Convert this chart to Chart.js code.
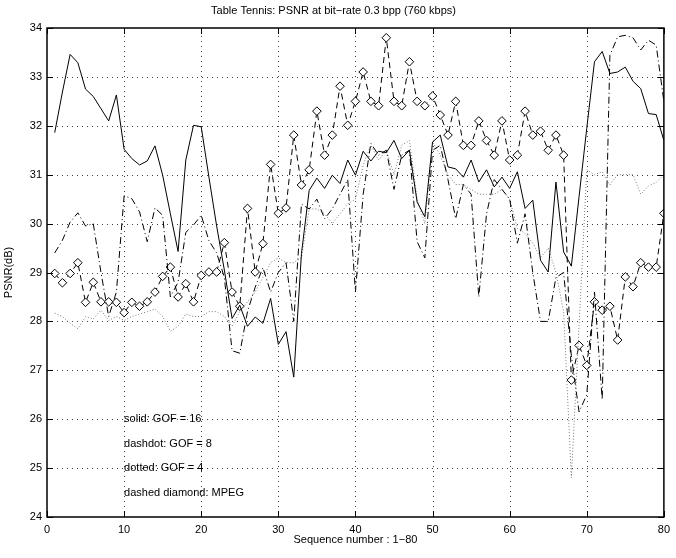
<!DOCTYPE html>
<html>
<head>
<meta charset="utf-8">
<script src="https://cdn.jsdelivr.net/npm/chart.js@4"></script>
<style>
  html, body { margin: 0; padding: 0; background: #fff; }
  #wrap { width: 676px; height: 558px; }
</style>
</head>
<body>
<div id="wrap"><canvas id="psnr" width="676" height="558"></canvas></div>
<script>
// ---- data :: PSNR per frame (sequence 1-80) ----
var seq = Array.from({length: 80}, function (_, i) { return i + 1; });

var gof16 = [31.86, 32.69, 33.46, 33.29, 32.75, 32.6, 32.35, 32.1, 32.63, 31.52,
             31.33, 31.2, 31.28, 31.59, 30.99, 30.2, 29.43, 31.3, 32.01, 31.98,
             30.95, 29.95, 29.05, 28.06, 28.33, 27.9, 28.09, 27.96, 28.47, 27.53,
             27.79, 26.86, 29.39, 30.68, 30.93, 30.72, 30.99, 30.82, 31.3, 30.99,
             31.48, 31.28, 31.48, 31.45, 31.7, 31.33, 31.5, 30.44, 30.14, 31.67,
             31.81, 31.16, 31.12, 30.95, 31.3, 30.85, 31.1, 30.75, 30.95, 30.72,
             31.06, 30.31, 30.48, 29.25, 29.01, 30.85, 29.42, 29.13, 30.55, 31.95,
             33.31, 33.52, 33.07, 33.1, 33.2, 32.91, 32.76, 32.25, 32.23, 31.7];

var gof8 = [29.4, 29.66, 30.03, 30.22, 29.95, 30.0, 29.0, 28.1, 28.6, 30.57,
            30.51, 30.24, 29.63, 30.32, 30.17, 28.5, 28.8, 29.82, 29.97, 30.17,
            29.65, 29.4, 28.9, 27.4, 27.35, 28.2, 28.7, 29.1, 28.6, 29.0,
            29.2, 28.0, 30.4, 30.3, 30.5, 30.1, 30.3, 30.6, 30.9, 28.6,
            30.6, 31.64, 31.4, 31.5, 30.7, 31.4, 31.5, 29.63, 29.3, 31.5,
            31.6, 30.9, 30.1, 30.8, 30.6, 28.5, 30.2, 30.9, 30.7, 30.5,
            29.6, 30.2, 29.0, 28.0, 28.0, 28.9, 29.0, 27.3, 26.15, 26.5,
            28.6, 26.4, 33.44, 33.82, 33.85, 33.8, 33.55, 33.75, 33.65, 32.5];

var gof4 = [28.17, 28.1, 27.96, 27.85, 28.1, 28.05, 28.23, 28.02, 28.1, 28.02,
            28.1, 28.15, 28.2, 28.25, 28.1, 27.8, 27.9, 28.15, 28.1, 28.1,
            28.2, 28.2, 28.1, 27.9, 28.2, 28.4, 28.6, 28.9, 29.2, 29.3,
            29.2, 29.2, 29.3, 30.3, 30.3, 30.2, 30.0, 30.2, 30.4, 30.5,
            31.2, 31.6, 31.3, 31.5, 31.0, 31.6, 31.7, 30.5, 30.0, 31.67,
            31.4, 31.0, 30.8, 30.8, 30.7, 30.6, 30.6, 30.6, 30.7, 30.5,
            29.9, 29.8, 29.6, 29.3, 29.5, 29.0, 28.2, 24.8, 27.9, 31.1,
            31.0, 31.06, 30.79, 31.0, 31.0, 31.0, 30.6, 30.77, 30.84, 31.0];

var mpeg = [28.98, 28.79, 28.98, 29.2, 28.39, 28.8, 28.4, 28.4, 28.39, 28.18,
            28.39, 28.31, 28.4, 28.6, 28.92, 29.11, 28.5, 28.77, 28.4, 28.94,
            29.01, 29.01, 29.61, 28.6, 28.31, 30.31, 29.01, 29.59, 31.21, 30.21,
            30.32, 31.81, 30.79, 31.1, 32.3, 31.4, 31.81, 32.81, 32.01, 32.5,
            33.1, 32.5, 32.41, 33.8, 32.5, 32.41, 33.31, 32.5, 32.41, 32.61,
            32.22, 31.81, 32.5, 31.6, 31.6, 32.1, 31.7, 31.4, 32.1, 31.3,
            31.4, 32.3, 31.81, 31.89, 31.5, 31.81, 31.4, 26.8, 27.51, 27.1,
            28.4, 28.23, 28.31, 27.62, 28.91, 28.71, 29.2, 29.11, 29.11, 30.21];

var xTicks = [0, 10, 20, 30, 40, 50, 60, 70, 80];
var yTicks = [24, 25, 26, 27, 28, 29, 30, 31, 32, 33, 34];

var notes = ['solid: GOF = 16', 'dashdot: GOF = 8', 'dotted: GOF = 4', 'dashed diamond: MPEG'];
var noteY = [26, 25.5, 25, 24.5];

var FONT = '"Liberation Sans", Arial, Helvetica, sans-serif';

function pts(vals) {
    return vals.map(function (v, i) { return {x: seq[i], y: v}; });
}

// ---- dotted grid behind the lines ----
var dotGrid = {
    id: 'dotGrid',
    beforeDatasetsDraw: function (chart) {
        var c = chart.ctx, a = chart.chartArea;
        var sx = chart.scales.x, sy = chart.scales.y;
        c.save();
        c.strokeStyle = 'rgba(0,0,0,0.75)';
        c.lineWidth = 1;
        c.setLineDash([1, 4]);
        c.beginPath();
        xTicks.slice(1, -1).forEach(function (t) {
            var px = Math.round(sx.getPixelForValue(t)) + 0.5;
            c.moveTo(px, a.bottom); c.lineTo(px, a.top);
        });
        yTicks.slice(1, -1).forEach(function (t) {
            var py = Math.round(sy.getPixelForValue(t)) + 0.5;
            c.moveTo(a.left, py); c.lineTo(a.right, py);
        });
        c.stroke();
        c.restore();
    }
};

// ---- axes frame, inward ticks, text notes ----
var matlabAxes = {
    id: 'matlabAxes',
    afterDraw: function (chart) {
        var c = chart.ctx, a = chart.chartArea;
        var sx = chart.scales.x, sy = chart.scales.y;
        c.save();
        c.strokeStyle = '#000';
        c.lineWidth = 1;
        c.setLineDash([]);
        c.beginPath();
        xTicks.forEach(function (t) {
            var px = Math.round(sx.getPixelForValue(t)) + 0.5;
            c.moveTo(px, a.bottom); c.lineTo(px, a.bottom - 6);
            c.moveTo(px, a.top); c.lineTo(px, a.top + 6);
        });
        yTicks.forEach(function (t) {
            var py = Math.round(sy.getPixelForValue(t)) + 0.5;
            c.moveTo(a.left, py); c.lineTo(a.left + 6, py);
            c.moveTo(a.right, py); c.lineTo(a.right - 6, py);
        });
        c.stroke();
        c.lineWidth = 1.5;
        c.strokeRect(a.left, a.top, a.right - a.left, a.bottom - a.top);

        c.fillStyle = '#000';
        c.font = '11px ' + FONT;
        c.textBaseline = 'middle';
        c.textAlign = 'left';
        notes.forEach(function (n, i) {
            c.fillText(n, sx.getPixelForValue(10), sy.getPixelForValue(noteY[i]));
        });
        c.restore();
    }
};

var ctx = document.getElementById('psnr').getContext('2d');
var chart = new Chart(ctx, {
    type: 'line',
    data: {
        datasets: [{
            label: 'solid: GOF = 16',
            data: pts(gof16),
            borderColor: '#000',
            borderWidth: 1,
            pointRadius: 0,
            tension: 0
        }, {
            label: 'dashdot: GOF = 8',
            data: pts(gof8),
            borderColor: '#000',
            borderWidth: 1,
            borderDash: [7, 3, 1, 3],
            pointRadius: 0,
            tension: 0
        }, {
            label: 'dotted: GOF = 4',
            data: pts(gof4),
            borderColor: '#777',
            borderWidth: 1,
            borderDash: [1, 2],
            pointRadius: 0,
            tension: 0
        }, {
            label: 'dashed diamond: MPEG',
            data: pts(mpeg),
            borderColor: '#000',
            borderWidth: 1,
            borderDash: [6, 4],
            pointStyle: 'rectRot',
            pointRadius: 4.3,
            pointBorderWidth: 1,
            pointBackgroundColor: '#fff',
            pointBorderColor: '#000',
            tension: 0
        }]
    },
    options: {
        responsive: false,
        animation: false,
        events: [],
        layout: { padding: { left: 0, right: 9, top: 0, bottom: 0 } },
        plugins: {
            legend: { display: false },
            tooltip: { enabled: false },
            title: {
                display: true,
                text: 'Table Tennis: PSNR at bit\u2212rate 0.3 bpp (760 kbps)',
                color: '#000',
                font: { family: FONT, size: 11, weight: 'normal' },
                padding: { top: 4, bottom: 10.8 }
            }
        },
        scales: {
            x: {
                type: 'linear',
                min: 0, max: 80,
                afterFit: function (s) { s.height = 41; },
                afterBuildTicks: function (s) { s.ticks = xTicks.map(function (v) { return {value: v}; }); },
                grid: { display: false, drawTicks: false },
                border: { display: false },
                ticks: { color: '#000', padding: 6, font: { family: FONT, size: 11 }, maxRotation: 0 },
                title: {
                    display: true,
                    text: 'Sequence number : 1\u221280',
                    color: '#000',
                    font: { family: FONT, size: 11 },
                    padding: { top: 0, bottom: 11.4 }
                }
            },
            y: {
                min: 24, max: 34,
                afterFit: function (s) { s.width = 47; },
                afterBuildTicks: function (s) { s.ticks = yTicks.map(function (v) { return {value: v}; }); },
                grid: { display: false, drawTicks: false },
                border: { display: false },
                ticks: { color: '#000', padding: 5, font: { family: FONT, size: 11 } },
                title: {
                    display: true,
                    text: 'PSNR(dB)',
                    color: '#000',
                    font: { family: FONT, size: 11 },
                    padding: { top: 2.4, bottom: 0 }
                }
            }
        }
    },
    plugins: [dotGrid, matlabAxes]
});
</script>
</body>
</html>
